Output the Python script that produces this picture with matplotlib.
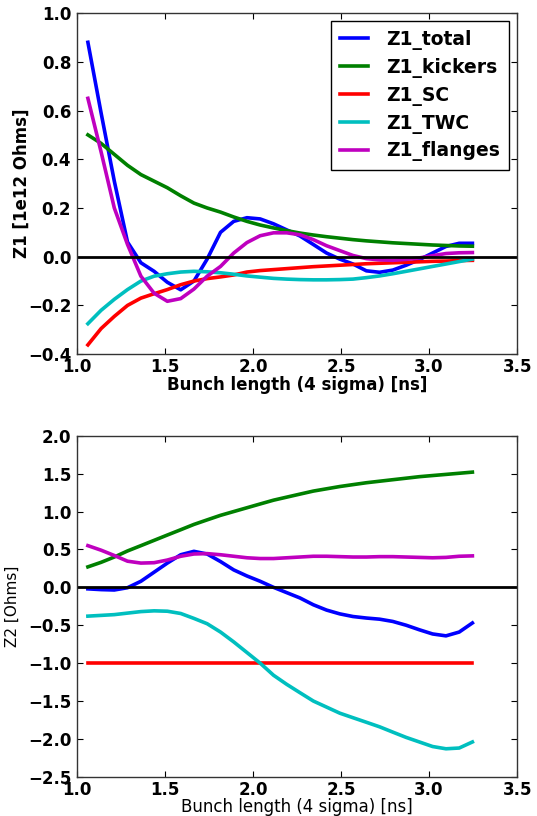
import matplotlib
matplotlib.use('Agg')
import matplotlib.pyplot as plt

# bunch length (4 sigma) [ns]
bunch_length = [1.063, 1.138, 1.213, 1.288, 1.364, 1.439, 1.514, 1.590, 1.665, 1.740,
                1.816, 1.891, 1.966, 2.041, 2.117, 2.192, 2.267, 2.343, 2.418, 2.493,
                2.568, 2.644, 2.719, 2.794, 2.870, 2.945, 3.020, 3.096, 3.171, 3.246]

# Z1 [1e12 Ohms]
z1_total = [0.88, 0.59, 0.31, 0.06, -0.025, -0.06, -0.105, -0.136, -0.10, -0.01,
            0.10, 0.145, 0.16, 0.155, 0.135, 0.11, 0.085, 0.05, 0.015, -0.01,
            -0.03, -0.058, -0.064, -0.055, -0.035, -0.012, 0.015, 0.042, 0.055, 0.055]
z1_kickers = [0.50, 0.465, 0.42, 0.375, 0.337, 0.31, 0.283, 0.25, 0.22, 0.20,
              0.183, 0.163, 0.145, 0.13, 0.118, 0.107, 0.097, 0.089, 0.082, 0.076,
              0.07, 0.065, 0.061, 0.057, 0.054, 0.051, 0.048, 0.046, 0.044, 0.043]
z1_sc = [-0.362, -0.295, -0.245, -0.20, -0.17, -0.152, -0.135, -0.115, -0.10, -0.09,
         -0.083, -0.075, -0.063, -0.057, -0.053, -0.049, -0.045, -0.041, -0.038, -0.035,
         -0.032, -0.029, -0.027, -0.025, -0.023, -0.021, -0.019, -0.018, -0.016, -0.015]
z1_twc = [-0.275, -0.22, -0.175, -0.135, -0.10, -0.08, -0.07, -0.063, -0.06, -0.062,
          -0.066, -0.072, -0.079, -0.084, -0.089, -0.092, -0.094, -0.095, -0.095, -0.094,
          -0.092, -0.086, -0.079, -0.07, -0.06, -0.05, -0.04, -0.03, -0.02, -0.01]
z1_flanges = [0.65, 0.43, 0.20, 0.05, -0.08, -0.15, -0.183, -0.172, -0.133, -0.08,
              -0.04, 0.015, 0.058, 0.086, 0.098, 0.098, 0.09, 0.07, 0.045, 0.025,
              0.005, -0.008, -0.013, -0.015, -0.011, -0.005, 0.004, 0.013, 0.016, 0.017]

# Z2 [Ohms]
z2_total = [-0.02, -0.03, -0.035, -0.005, 0.08, 0.20, 0.32, 0.43, 0.475, 0.44,
            0.34, 0.23, 0.15, 0.08, 0.0, -0.07, -0.14, -0.23, -0.30, -0.35,
            -0.385, -0.405, -0.42, -0.45, -0.50, -0.56, -0.615, -0.64, -0.59, -0.47]
z2_kickers = [0.27, 0.33, 0.40, 0.48, 0.55, 0.62, 0.69, 0.76, 0.83, 0.89,
              0.95, 1.00, 1.05, 1.10, 1.15, 1.19, 1.23, 1.27, 1.30, 1.33,
              1.355, 1.38, 1.40, 1.42, 1.44, 1.46, 1.475, 1.49, 1.505, 1.52]
z2_sc = [-1.0] * len(bunch_length)
z2_twc = [-0.38, -0.37, -0.36, -0.34, -0.32, -0.31, -0.315, -0.345, -0.41, -0.48,
          -0.59, -0.72, -0.86, -1.0, -1.16, -1.28, -1.39, -1.50, -1.58, -1.66,
          -1.72, -1.78, -1.84, -1.91, -1.98, -2.04, -2.10, -2.13, -2.12, -2.04]
z2_flanges = [0.55, 0.49, 0.42, 0.345, 0.32, 0.325, 0.36, 0.41, 0.44, 0.445,
              0.43, 0.41, 0.39, 0.38, 0.38, 0.39, 0.40, 0.41, 0.41, 0.405,
              0.40, 0.40, 0.405, 0.405, 0.40, 0.395, 0.39, 0.395, 0.41, 0.415]

labels = ['Z1_total', 'Z1_kickers', 'Z1_SC', 'Z1_TWC', 'Z1_flanges']
colors = ['#0000ff', '#008000', '#ff0000', '#00bfbf', '#bf00bf']

xticks = [1.0, 1.5, 2.0, 2.5, 3.0, 3.5]
xticklabels = ['1.0', '1.5', '2.0', '2.5', '3.0', '3.5']
z1_ticks = [-0.4, -0.2, 0.0, 0.2, 0.4, 0.6, 0.8, 1.0]
z1_ticklabels = ['\u22120.4', '\u22120.2', '0.0', '0.2', '0.4', '0.6', '0.8', '1.0']
z2_ticks = [-2.5, -2.0, -1.5, -1.0, -0.5, 0.0, 0.5, 1.0, 1.5, 2.0]
z2_ticklabels = ['\u22122.5', '\u22122.0', '\u22121.5', '\u22121.0', '\u22120.5',
                 '0.0', '0.5', '1.0', '1.5', '2.0']

fig = plt.figure(figsize=(5.37, 8.16), dpi=100)
ax1 = fig.add_axes([0.143, 0.566, 0.820, 0.418])
ax2 = fig.add_axes([0.143, 0.048, 0.820, 0.418])

tick_font = dict(fontsize=12, fontweight='bold')

for ax, series in ((ax1, [z1_total, z1_kickers, z1_sc, z1_twc, z1_flanges]),
                   (ax2, [z2_total, z2_kickers, z2_sc, z2_twc, z2_flanges])):
    for s, lab, c in zip(series, labels, colors):
        ax.plot(bunch_length, s, color=c, lw=2.6, label=lab)
    ax.axhline(0, color='k', lw=2)
    ax.set_xlim(1.0, 3.5)
    ax.tick_params(direction='in', top=True, right=True, length=4, width=0.8)
    ax.tick_params(axis='x', pad=3)
    ax.tick_params(axis='y', pad=4)
    for sp in ax.spines.values():
        sp.set_linewidth(1)
        sp.set_color('#333333')
    ax.set_xticks(xticks)
    ax.set_xticklabels(xticklabels, **tick_font)

ax1.set_ylim(-0.4, 1.0)
ax1.set_yticks(z1_ticks)
ax1.set_yticklabels(z1_ticklabels, **tick_font)
ax1.set_xlabel('Bunch length (4 sigma) [ns]', fontsize=12, fontweight='bold', labelpad=0)
ax1.set_ylabel('Z1 [1e12 Ohms]', fontsize=12, fontweight='bold', labelpad=-2)
leg = ax1.legend(loc='upper right', prop={'size': 13.5, 'weight': 'bold'},
                 fancybox=False, framealpha=1, edgecolor='k', handlelength=1.5,
                 borderaxespad=0.45, labelspacing=0.42, handletextpad=1.0,
                 borderpad=0.45)
leg.get_frame().set_linewidth(1)

ax2.set_ylim(-2.5, 2.0)
ax2.set_yticks(z2_ticks)
ax2.set_yticklabels(z2_ticklabels, **tick_font)
ax2.set_xlabel('Bunch length (4 sigma) [ns]', fontsize=12, labelpad=-1)
ax2.set_ylabel('Z2 [Ohms]', fontsize=11, labelpad=6)

fig.savefig('out.png', dpi=100)
